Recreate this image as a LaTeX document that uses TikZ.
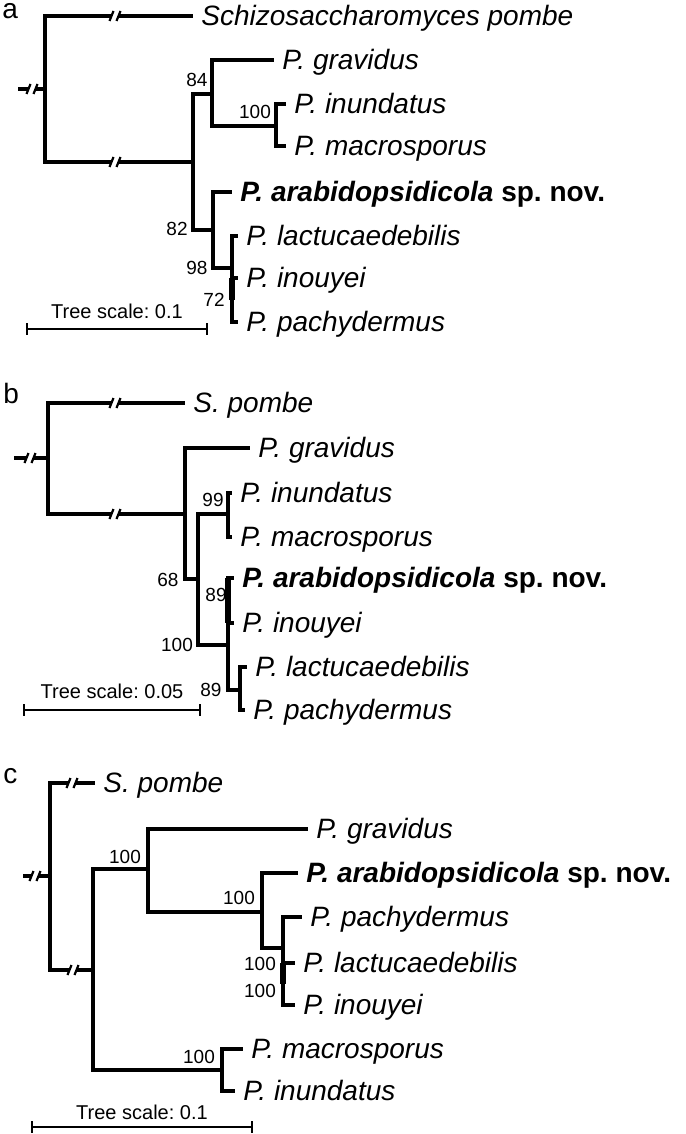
\documentclass[tikz,border=0pt]{standalone}
\usepackage{fontspec}
\setmainfont{Liberation Sans}
\usetikzlibrary{calc}
\frenchspacing

\tikzset{
  brk/.pic={
    \fill[white] (-3,-3.5) rectangle (3,3.5);
    \draw[line width=1.1pt] (-5.5,5) -- (-1.5,-5) (1.5,5) -- (5.5,-5);
  }
}

\begin{document}
\begin{tikzpicture}[x=0.5pt, y=-0.5pt,
  branch/.style={line width=1.55pt},
  zerobr/.style={line width=2.6pt},
  scalebar/.style={line width=1pt},
  taxon/.style={anchor=base west, inner sep=0pt, xshift=4pt, yshift=-4.8pt, font=\fontsize{14}{16}\selectfont\itshape},
  boot/.style={inner sep=0pt, font=\fontsize{9.5}{11}\selectfont},
  panel/.style={anchor=base west, inner sep=0pt, font=\fontsize{14}{16}\selectfont},
  scaletext/.style={inner sep=0pt, font=\fontsize{10}{12}\selectfont}]
  \useasboundingbox (0,0) rectangle (685,1134);

  % ---- panel a ----
  \node[panel] (pa) at (2,19) {a};
  \foreach \n/\x/\y in {aorig/18/89, aroot/45/89, apombe/193/16, aN/193/162, a84/212/94, agrav/274/60,
      a100/276/126, ainun/286/104, amacro/286/146, a82/213/230, aarab/232/192, a98/232/268,
      alact/238/236, a72/232/300, ainou/238/278, apach/238/322}
    \coordinate (\n) at (\x,\y);
  \draw[branch] (aorig) -- (aroot);
  \foreach \p/\c in {aroot/apombe, aroot/aN, aN/a84, aN/a82, a84/agrav, a84/a100, a100/ainun, a100/amacro,
      a82/aarab, a82/a98, a98/alact, a98/a72, a72/ainou, a72/apach}
    \draw[branch] (\p) |- (\c);
  \draw[zerobr] (a72) -- (a72 |- ainou);
  \pic at (32,89) {brk};
  \pic at (115,16) {brk};
  \pic at (115,162) {brk};
  \foreach \t/\lab in {apombe/Schizosaccharomyces pombe, agrav/P. gravidus, ainun/P. inundatus,
      amacro/P. macrosporus, alact/P. lactucaedebilis, ainou/P. inouyei, apach/P. pachydermus}
    \node[taxon] (l\t) at (\t) {\lab};
  \node[taxon] (laarab) at (aarab) {\bfseries P. arabidopsidicola {\upshape sp. nov.}};
  \foreach \n/\x/\y/\v in {a84/197/80/84, a100/255/112/100, a82/177/229/82, a98/197/268/98, a72/214/300/72}
    \node[boot] (s\n) at (\x,\y) {\v};
  \coordinate (asL) at (27,329);
  \coordinate (asR) at (207,329);
  \draw[scalebar] (asL) -- (asR);
  \draw[scalebar] ([yshift=3pt]asL) -- ([yshift=-3pt]asL);
  \draw[scalebar] ([yshift=3pt]asR) -- ([yshift=-3pt]asR);
  \node[scaletext] (ascale) at ($(asL)!.5!(asR)+(0,-18)$) {Tree scale: 0.1};

  % ---- panel b ----
  \node[panel] (pb) at (3,403) {b};
  \foreach \n/\x/\y in {borig/14/458, broot/48/458, bpombe/185/403, bN/185/514, bgrav/250/448, b68/198/579,
      b99/228/514, binun/232/493, bmacro/232/537, b100/228/645, b89u/228/600, barab/234/578,
      binou/234/623, b89l/240/690, blact/247/667, bpach/245/710}
    \coordinate (\n) at (\x,\y);
  \draw[branch] (borig) -- (broot);
  \foreach \p/\c in {broot/bpombe, broot/bN, bN/bgrav, bN/b68, b68/b99, b68/b100, b99/binun, b99/bmacro,
      b100/b89u, b100/b89l, b89u/barab, b89u/binou, b89l/blact, b89l/bpach}
    \draw[branch] (\p) |- (\c);
  \draw[zerobr] (b89u |- barab) -- (b89u |- binou);
  \pic at (30,458) {brk};
  \pic at (115,403) {brk};
  \pic at (115,514) {brk};
  \foreach \t/\lab in {bpombe/S. pombe, bgrav/P. gravidus, binun/P. inundatus, bmacro/P. macrosporus,
      binou/P. inouyei, blact/P. lactucaedebilis, bpach/P. pachydermus}
    \node[taxon] (l\t) at (\t) {\lab};
  \node[taxon] (lbarab) at (barab) {\bfseries P. arabidopsidicola {\upshape sp. nov.}};
  \foreach \n/\x/\y/\v in {b99/213/500/99, b68/168/580/68, b89u/216/595/89, b100/177/645/100, b89l/211/690/89}
    \node[boot] (s\n) at (\x,\y) {\v};
  \coordinate (bsL) at (24,710);
  \coordinate (bsR) at (200,710);
  \draw[scalebar] (bsL) -- (bsR);
  \draw[scalebar] ([yshift=3pt]bsL) -- ([yshift=-3pt]bsL);
  \draw[scalebar] ([yshift=3pt]bsR) -- ([yshift=-3pt]bsR);
  \node[scaletext] (bscale) at ($(bsL)!.5!(bsR)+(0,-19)$) {Tree scale: 0.05};

  % ---- panel c ----
  \node[panel] (pc) at (3,783) {c};
  \foreach \n/\x/\y in {corig/23/876, croot/50/876, cpombe/95/783, cN/93/970, c100a/148/869, cgrav/308/829,
      c100b/262/912, carab/298/873, c100c/283/948, cpach/302/917, c100d/283/984, clact/295/963,
      cinou/295/1005, c100e/222/1070, cmacro/243/1049, cinun/235/1091}
    \coordinate (\n) at (\x,\y);
  \draw[branch] (corig) -- (croot);
  \foreach \p/\c in {croot/cpombe, croot/cN, cN/c100a, cN/c100e, c100a/cgrav, c100a/c100b, c100b/carab,
      c100b/c100c, c100c/cpach, c100c/c100d, c100d/clact, c100d/cinou, c100e/cmacro, c100e/cinun}
    \draw[branch] (\p) |- (\c);
  \draw[zerobr] (c100d) -- (c100d |- clact);
  \pic at (35,876) {brk};
  \pic at (72,783) {brk};
  \pic at (73,970) {brk};
  \foreach \t/\lab in {cpombe/S. pombe, cgrav/P. gravidus, cpach/P. pachydermus, clact/P. lactucaedebilis,
      cinou/P. inouyei, cmacro/P. macrosporus, cinun/P. inundatus}
    \node[taxon] (l\t) at (\t) {\lab};
  \node[taxon] (lcarab) at (carab) {\bfseries P. arabidopsidicola {\upshape sp. nov.}};
  \foreach \n/\x/\y/\v in {c100a/125/857/100, c100b/239/898/100, c100c/260/964/100, c100d/260/991/100, c100e/199/1057/100}
    \node[boot] (s\n) at (\x,\y) {\v};
  \coordinate (csL) at (32,1127);
  \coordinate (csR) at (252,1127);
  \draw[scalebar] (csL) -- (csR);
  \draw[scalebar] ([yshift=3pt]csL) -- ([yshift=-3pt]csL);
  \draw[scalebar] ([yshift=3pt]csR) -- ([yshift=-3pt]csR);
  \node[scaletext] (cscale) at ($(csL)!.5!(csR)+(0,-15)$) {Tree scale: 0.1};
\end{tikzpicture}
\end{document}
